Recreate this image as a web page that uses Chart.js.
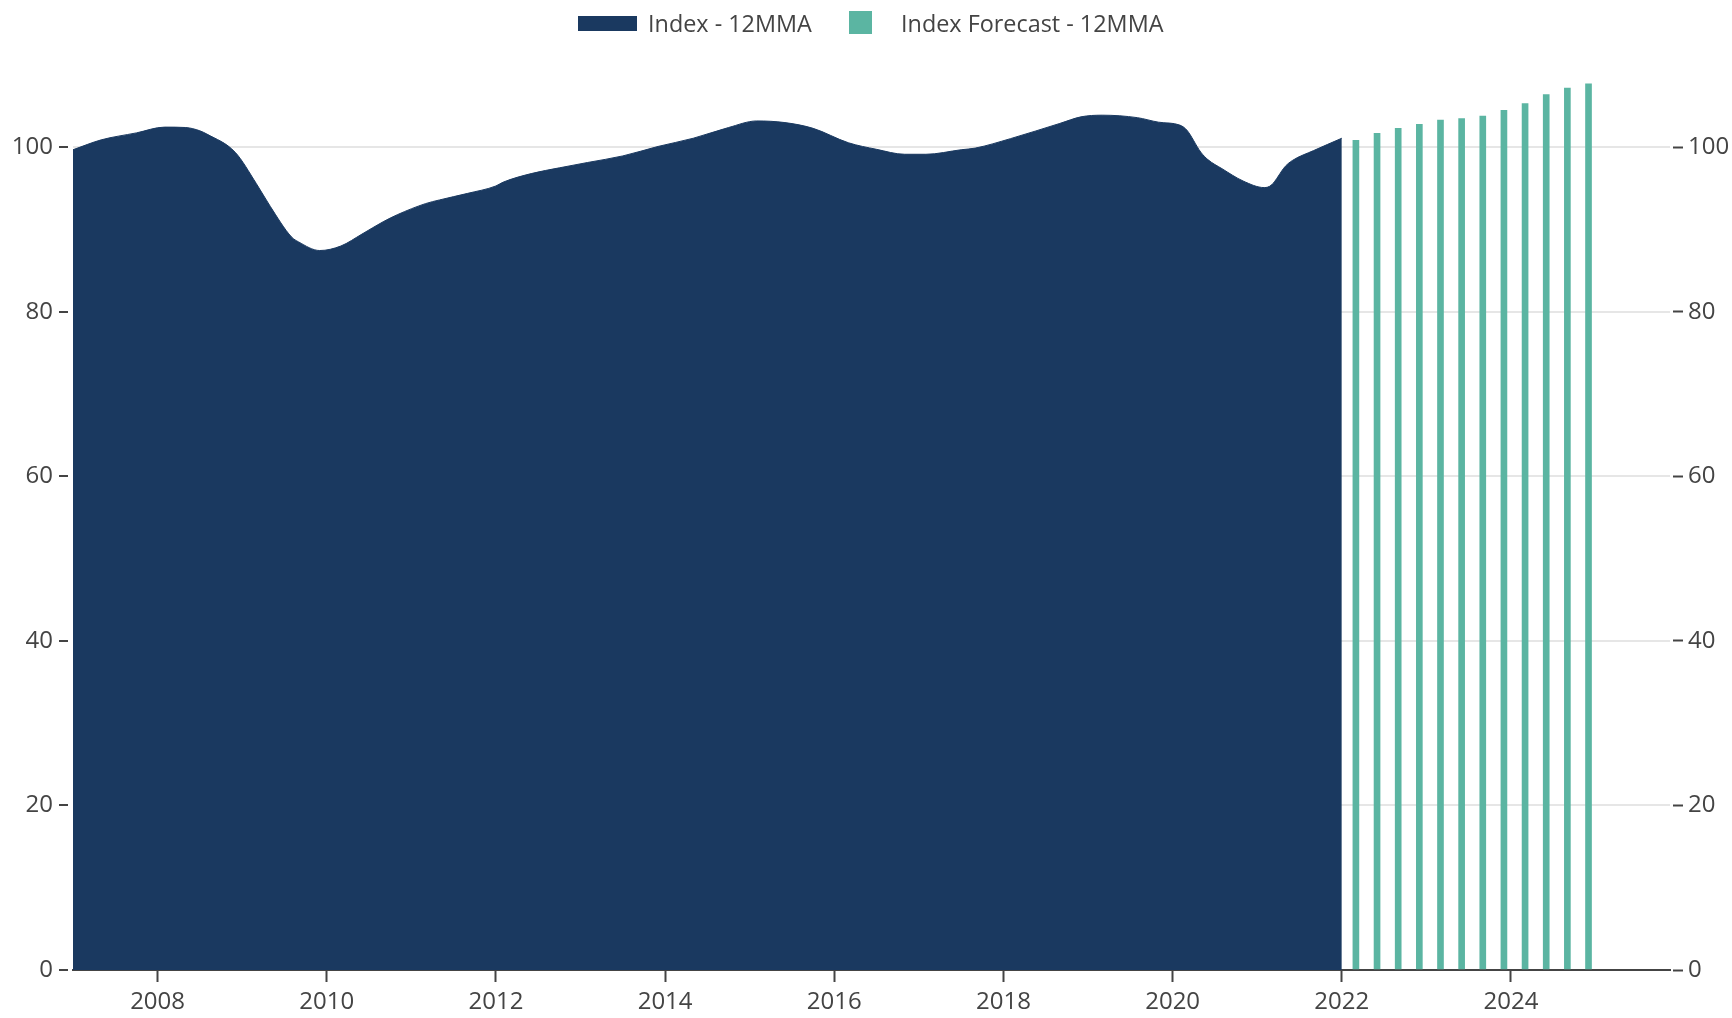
<!DOCTYPE html>
<html>
<head>
<meta charset="utf-8">
<script src="https://cdn.jsdelivr.net/npm/chart.js@4.4.1/dist/chart.umd.min.js"></script>
<style>
  html, body { margin: 0; padding: 0; background: #fff; }
  #wrap { position: relative; width: 1732px; height: 1018px; overflow: hidden; }
  #chart { position: absolute; left: 0; top: 0; }
  .lg { position: absolute; font-family: 'Open Sans', sans-serif; font-size: 23.4px; color: #444; line-height: 46px; top: 0; white-space: nowrap; }
  .sw { position: absolute; }
</style>
</head>
<body>
<div id="wrap">
  <canvas id="chart" width="1732" height="1018"></canvas>
  <div class="sw" id="sw1" style="left:578px;top:16px;width:59px;height:15px;"></div>
  <div class="lg" id="lt1" style="left:648px;"></div>
  <div class="sw" id="sw2" style="left:849px;top:11px;width:23px;height:23px;"></div>
  <div class="lg" id="lt2" style="left:901px;"></div>
</div>
<script>
// ---- data ----
const seriesLabels = ['Index - 12MMA', 'Index Forecast - 12MMA'];

const indexDates = [
  '2007-01','2007-05','2007-10','2008-02','2008-05','2008-07','2008-08','2008-12',
  '2009-03','2009-05','2009-08','2009-09','2009-12','2010-03','2010-06','2010-09','2010-11',
  '2011-03','2011-05','2011-09','2012-01','2012-02','2012-06','2012-10',
  '2013-02','2013-07','2013-12','2014-05','2014-10',
  '2015-02','2015-06','2015-10','2016-03','2016-07','2016-11',
  '2017-02','2017-07','2017-09','2018-02','2018-09','2018-12',
  '2019-03','2019-08','2019-11','2020-02','2020-03','2020-05','2020-06','2020-08','2020-11',
  '2021-02','2021-03','2021-05','2021-06','2021-09','2022-01'
];
const indexValues = [
  99.7, 100.9, 101.75, 102.45, 102.4, 102.0, 101.6, 99.4,
  95.6, 92.8, 89.1, 88.5, 87.45, 88.0, 89.45, 90.95, 91.8,
  93.15, 93.6, 94.4, 95.3, 95.75, 96.8, 97.5,
  98.15, 98.95, 100.1, 101.1, 102.4,
  103.2, 103.0, 102.3, 100.55, 99.75, 99.15,
  99.15, 99.7, 99.9, 101.05, 102.9, 103.7,
  103.9, 103.6, 103.05, 102.7, 102.1, 99.4, 98.5, 97.4, 95.9,
  95.1, 95.4, 97.7, 98.4, 99.6, 101.1
];

const forecastDates = [
  '2022-03','2022-06','2022-09','2022-12',
  '2023-03','2023-06','2023-09','2023-12',
  '2024-03','2024-06','2024-09','2024-12'
];
const forecastValues = [100.85, 101.7, 102.3, 102.8, 103.3, 103.5, 103.8, 104.5, 105.3, 106.4, 107.2, 107.7];

const xTickYears = [2008, 2010, 2012, 2014, 2016, 2018, 2020, 2022, 2024];
const yTickValues = [0, 20, 40, 60, 80, 100];

// ---- style ----
const NAVY = '#1a3960';
const GREEN = '#5bb5a2';
const TEXT = '#444444';
const GRID = '#e6e6e6';
const FONT = { family: "'Open Sans', sans-serif", size: 24 };

function toYear(s) { const p = s.split('-').map(Number); return p[0] + (p[1] - 1) / 12; }

document.getElementById('sw1').style.background = NAVY;
document.getElementById('sw2').style.background = GREEN;
document.getElementById('lt1').textContent = seriesLabels[0];
document.getElementById('lt2').textContent = seriesLabels[1];

const yTicksFn = (scale) => { scale.ticks = yTickValues.map(v => ({ value: v })); };

new Chart(document.getElementById('chart'), {
  type: 'line',
  data: {
    datasets: [
      {
        type: 'line',
        label: seriesLabels[0],
        data: indexDates.map((d, i) => ({ x: toYear(d), y: indexValues[i] })),
        fill: 'origin',
        backgroundColor: NAVY,
        borderColor: NAVY,
        borderWidth: 1,
        pointRadius: 0,
        cubicInterpolationMode: 'monotone',
        yAxisID: 'y'
      },
      {
        type: 'bar',
        label: seriesLabels[1],
        data: forecastDates.map((d, i) => ({ x: toYear(d), y: forecastValues[i] })),
        backgroundColor: GREEN,
        borderWidth: 0,
        barThickness: 6,
        yAxisID: 'y'
      }
    ]
  },
  options: {
    responsive: false,
    devicePixelRatio: 1,
    animation: false,
    layout: { padding: { top: 65, left: 0, right: 0, bottom: 0 } },
    plugins: { legend: { display: false }, tooltip: { enabled: false } },
    scales: {
      x: {
        type: 'linear',
        min: 2007,
        max: 2025.88,
        offset: false,
        afterBuildTicks: (scale) => { scale.ticks = xTickYears.map(v => ({ value: v })); },
        afterFit: (scale) => { scale.height = 48; },
        ticks: {
          autoSkip: false, maxRotation: 0, minRotation: 0,
          color: TEXT, font: FONT, padding: 6,
          callback: (v) => String(v)
        },
        grid: { offset: false, drawOnChartArea: false, drawTicks: true, tickLength: 12, tickColor: TEXT, tickWidth: 2 },
        border: { display: true, color: TEXT, width: 2 }
      },
      y: {
        type: 'linear',
        position: 'left',
        min: 0, max: 110,
        afterBuildTicks: yTicksFn,
        afterFit: (scale) => { scale.width = 73; },
        ticks: { color: TEXT, font: FONT, padding: 6 },
        grid: {
          offset: false,
          color: GRID, lineWidth: 2,
          drawTicks: true, tickLength: 14, tickColor: TEXT, tickWidth: 2,
          tickBorderDash: [9, 5], tickBorderDashOffset: 0
        },
        border: { display: false }
      },
      y2: {
        type: 'linear',
        position: 'right',
        min: 0, max: 110,
        afterBuildTicks: yTicksFn,
        afterFit: (scale) => { scale.width = 62; },
        ticks: { color: TEXT, font: FONT, padding: 5 },
        grid: {
          offset: false,
          drawOnChartArea: false,
          drawTicks: true, tickLength: 13, tickColor: TEXT, tickWidth: 2,
          tickBorderDash: [10, 3], tickBorderDashOffset: 10
        },
        border: { display: false }
      }
    }
  }
});
</script>
</body>
</html>
